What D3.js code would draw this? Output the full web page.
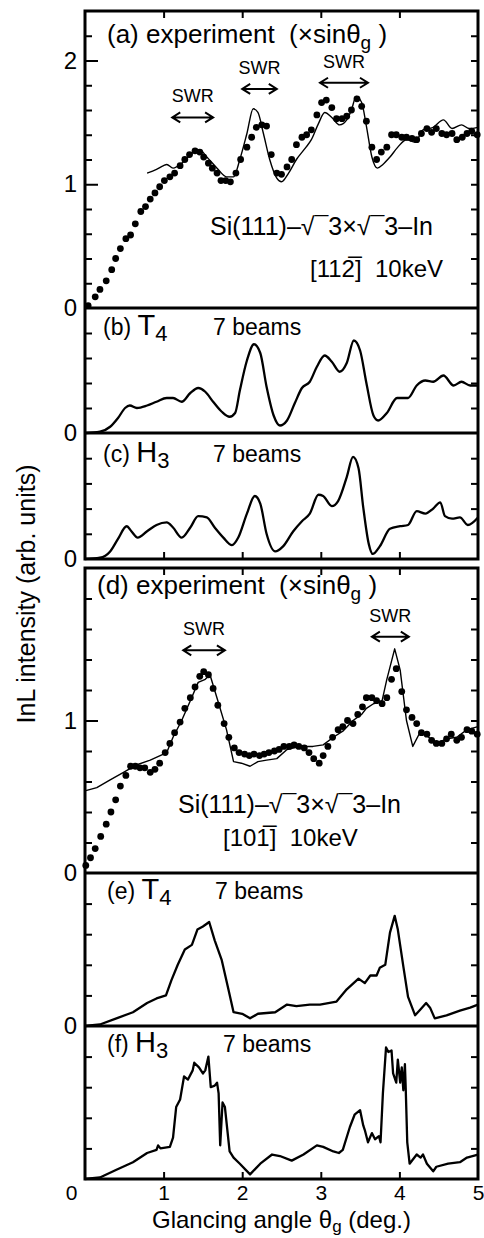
<!DOCTYPE html>
<html>
<head>
<meta charset="utf-8">
<script src="https://cdn.jsdelivr.net/npm/d3@7"></script>
<style>
body { margin: 0; background: #fff; }
text { font-family: "Liberation Sans", Arial, sans-serif; fill: #000; }
</style>
</head>
<body>
<div id="chart"></div>
<script>
var width = 484;
var height = 1238;

// glancing angle ticks (deg.)
var angleTicks = [0, 1, 2, 3, 4, 5];

// (a) experiment, [11-2] : [angle, intensity]
var expA = [
  [0.04,0.02],[0.13,0.09],[0.19,0.15],[0.27,0.22],[0.34,0.31],[0.39,0.40],[0.45,0.48],[0.52,0.56],
  [0.58,0.59],[0.64,0.68],[0.71,0.78],[0.77,0.82],[0.83,0.88],[0.89,0.93],[0.95,0.98],[1.01,1.03],
  [1.08,1.06],[1.14,1.09],[1.21,1.15],[1.27,1.20],[1.33,1.24],[1.40,1.27],[1.46,1.26],[1.51,1.22],
  [1.57,1.17],[1.62,1.13],[1.68,1.09],[1.73,1.03],[1.79,1.03],[1.85,1.02],[1.92,1.09],[1.98,1.20],
  [2.06,1.30],[2.12,1.38],[2.18,1.46],[2.25,1.48],[2.31,1.47],[2.37,1.24],[2.44,1.09],[2.50,1.08],
  [2.57,1.14],[2.63,1.20],[2.69,1.32],[2.76,1.38],[2.82,1.40],[2.88,1.44],[2.95,1.56],[3.01,1.66],
  [3.07,1.68],[3.14,1.62],[3.20,1.53],[3.27,1.53],[3.33,1.55],[3.39,1.60],[3.46,1.69],[3.52,1.63],
  [3.58,1.51],[3.65,1.30],[3.71,1.20],[3.77,1.26],[3.84,1.30],[3.90,1.40],[3.96,1.40],[4.03,1.38],
  [4.09,1.38],[4.16,1.37],[4.22,1.36],[4.28,1.41],[4.35,1.45],[4.41,1.42],[4.47,1.45],[4.54,1.41],
  [4.60,1.40],[4.67,1.41],[4.73,1.36],[4.80,1.38],[4.86,1.41],[4.92,1.43],[4.99,1.40]
];
// (a) calculation (thin line)
var calcA = [
  [0.79,1.09],[0.91,1.12],[1.00,1.15],[1.04,1.16],[1.12,1.13],[1.25,1.18],[1.38,1.26],[1.46,1.28],
  [1.55,1.22],[1.68,1.13],[1.80,1.06],[1.89,1.06],[1.97,1.20],[2.06,1.41],[2.14,1.61],[2.20,1.58],
  [2.27,1.41],[2.35,1.20],[2.44,1.05],[2.50,1.02],[2.59,1.09],[2.69,1.20],[2.80,1.29],[2.88,1.36],
  [2.97,1.49],[3.05,1.58],[3.14,1.54],[3.24,1.48],[3.33,1.52],[3.39,1.60],[3.45,1.71],[3.52,1.66],
  [3.58,1.47],[3.65,1.22],[3.72,1.13],[3.79,1.16],[3.88,1.22],[3.98,1.30],[4.09,1.36],[4.20,1.34],
  [4.30,1.44],[4.43,1.46],[4.56,1.52],[4.67,1.45],[4.79,1.48],[4.89,1.45],[5.00,1.46]
];
// (b) T4, 7 beams
var t4B = [
  [0,0],[0.19,0.01],[0.32,0.05],[0.42,0.12],[0.51,0.20],[0.57,0.22],[0.66,0.20],[0.79,0.22],
  [0.91,0.25],[1.04,0.28],[1.12,0.28],[1.23,0.25],[1.34,0.32],[1.44,0.36],[1.53,0.33],[1.63,0.25],
  [1.74,0.17],[1.84,0.13],[1.91,0.16],[1.97,0.34],[2.06,0.58],[2.15,0.71],[2.23,0.64],[2.31,0.37],
  [2.40,0.14],[2.48,0.06],[2.57,0.10],[2.67,0.24],[2.76,0.36],[2.86,0.41],[2.95,0.53],[3.05,0.62],
  [3.14,0.57],[3.24,0.49],[3.33,0.56],[3.42,0.74],[3.50,0.66],[3.58,0.40],[3.67,0.14],[3.73,0.10],
  [3.84,0.16],[3.97,0.28],[4.11,0.28],[4.22,0.38],[4.33,0.42],[4.43,0.41],[4.56,0.46],[4.69,0.38],
  [4.79,0.41],[4.90,0.38],[5.00,0.38]
];
// (c) H3, 7 beams
var h3C = [
  [0,0],[0.19,0.01],[0.32,0.06],[0.42,0.16],[0.53,0.26],[0.59,0.22],[0.67,0.17],[0.79,0.22],
  [0.91,0.27],[1.04,0.29],[1.12,0.25],[1.23,0.17],[1.34,0.25],[1.44,0.34],[1.55,0.33],[1.65,0.25],
  [1.76,0.17],[1.87,0.11],[1.95,0.17],[2.06,0.36],[2.16,0.50],[2.23,0.44],[2.31,0.20],[2.42,0.06],
  [2.52,0.10],[2.65,0.22],[2.76,0.30],[2.86,0.36],[2.97,0.51],[3.03,0.50],[3.14,0.42],[3.22,0.46],
  [3.33,0.65],[3.41,0.81],[3.48,0.72],[3.54,0.41],[3.61,0.12],[3.66,0.04],[3.75,0.10],[3.88,0.24],
  [4.01,0.26],[4.11,0.27],[4.22,0.38],[4.33,0.36],[4.43,0.40],[4.52,0.45],[4.58,0.34],[4.67,0.32],
  [4.77,0.33],[4.87,0.27],[5.00,0.33]
];
// (d) experiment, [10-1]
var expD = [
  [0.01,0.05],[0.07,0.10],[0.13,0.16],[0.20,0.24],[0.27,0.32],[0.33,0.40],[0.39,0.48],[0.45,0.57],
  [0.52,0.64],[0.58,0.70],[0.64,0.70],[0.70,0.69],[0.76,0.69],[0.83,0.66],[0.89,0.68],[0.95,0.72],
  [1.02,0.79],[1.08,0.85],[1.14,0.92],[1.21,0.99],[1.27,1.08],[1.34,1.15],[1.40,1.22],[1.46,1.29],
  [1.51,1.32],[1.57,1.30],[1.63,1.21],[1.69,1.10],[1.77,0.98],[1.83,0.89],[1.90,0.82],[1.96,0.79],
  [2.03,0.78],[2.09,0.77],[2.15,0.78],[2.22,0.77],[2.28,0.78],[2.34,0.79],[2.41,0.80],[2.47,0.81],
  [2.53,0.83],[2.60,0.83],[2.66,0.84],[2.72,0.83],[2.79,0.82],[2.85,0.79],[2.91,0.75],[2.98,0.72],
  [3.03,0.77],[3.09,0.83],[3.15,0.89],[3.22,0.94],[3.28,0.96],[3.34,1.00],[3.41,0.98],[3.47,1.04],
  [3.53,1.09],[3.58,1.15],[3.65,1.15],[3.71,1.13],[3.78,1.11],[3.84,1.15],[3.90,1.27],[3.96,1.34],
  [4.03,1.19],[4.09,1.07],[4.16,1.02],[4.22,0.98],[4.28,0.92],[4.35,0.91],[4.41,0.87],[4.47,0.85],
  [4.54,0.85],[4.60,0.88],[4.66,0.91],[4.73,0.87],[4.79,0.89],[4.86,0.94],[4.92,0.93],[4.99,0.91]
];
// (d) calculation (thin line)
var calcD = [
  [0.01,0.54],[0.15,0.56],[0.32,0.61],[0.49,0.66],[0.66,0.71],[0.83,0.74],[1.04,0.79],[1.12,0.89],
  [1.23,1.00],[1.34,1.13],[1.44,1.25],[1.53,1.27],[1.59,1.30],[1.69,1.13],[1.80,0.94],[1.89,0.73],
  [1.99,0.72],[2.10,0.70],[2.20,0.73],[2.31,0.74],[2.44,0.75],[2.57,0.81],[2.73,0.83],[2.90,0.83],
  [3.03,0.84],[3.16,0.89],[3.28,0.93],[3.41,1.00],[3.52,1.04],[3.58,1.08],[3.67,1.11],[3.78,1.13],
  [3.84,1.27],[3.94,1.47],[4.01,1.33],[4.09,1.00],[4.17,0.83],[4.26,0.92],[4.35,0.90],[4.47,0.85],
  [4.60,0.88],[4.73,0.89],[4.86,0.94],[5.00,0.96]
];
// (e) T4, 7 beams
var t4E = [
  [0,0],[0.19,0.01],[0.40,0.05],[0.61,0.09],[0.79,0.15],[0.91,0.18],[1.03,0.20],[1.10,0.30],
  [1.18,0.40],[1.27,0.50],[1.36,0.53],[1.43,0.63],[1.50,0.65],[1.58,0.68],[1.65,0.56],[1.74,0.43],
  [1.82,0.25],[1.89,0.09],[2.00,0.08],[2.10,0.05],[2.20,0.08],[2.42,0.09],[2.57,0.14],[2.69,0.13],
  [2.86,0.14],[2.99,0.14],[3.20,0.16],[3.33,0.24],[3.48,0.31],[3.56,0.28],[3.63,0.33],[3.71,0.33],
  [3.75,0.38],[3.82,0.40],[3.88,0.61],[3.94,0.72],[3.98,0.63],[4.05,0.39],[4.11,0.19],[4.20,0.07],
  [4.27,0.11],[4.34,0.15],[4.39,0.12],[4.45,0.05],[4.60,0.07],[4.77,0.10],[4.90,0.12],[5.00,0.14]
];
// (f) H3, 7 beams
var h3F = [
  [0,0],[0.19,0.01],[0.40,0.06],[0.61,0.11],[0.79,0.17],[0.91,0.19],[0.93,0.22],[0.96,0.20],
  [1.08,0.21],[1.12,0.27],[1.16,0.47],[1.21,0.52],[1.26,0.67],[1.31,0.65],[1.37,0.71],[1.39,0.76],
  [1.45,0.73],[1.50,0.69],[1.53,0.71],[1.57,0.80],[1.60,0.60],[1.65,0.61],[1.68,0.63],[1.70,0.56],
  [1.72,0.22],[1.75,0.50],[1.78,0.47],[1.84,0.18],[1.89,0.14],[1.97,0.10],[2.10,0.03],[2.23,0.10],
  [2.38,0.16],[2.48,0.15],[2.63,0.12],[2.78,0.16],[2.95,0.22],[3.03,0.21],[3.16,0.18],[3.23,0.17],
  [3.28,0.19],[3.37,0.34],[3.43,0.42],[3.50,0.45],[3.54,0.35],[3.56,0.32],[3.60,0.24],[3.65,0.30],
  [3.69,0.26],[3.74,0.28],[3.76,0.24],[3.79,0.56],[3.83,0.86],[3.86,0.83],[3.90,0.84],[3.92,0.69],
  [3.96,0.63],[3.98,0.78],[4.01,0.63],[4.03,0.73],[4.05,0.58],[4.07,0.75],[4.08,0.60],[4.10,0.24],
  [4.13,0.10],[4.22,0.16],[4.27,0.14],[4.30,0.16],[4.35,0.10],[4.43,0.05],[4.47,0.08],[4.62,0.10],
  [4.77,0.11],[4.86,0.14],[5.00,0.16]
];

// standing-wave-resonance arrows: [from angle, to angle, level]
var swrA = [[1.11, 1.63, 1.54], [2.00, 2.44, 1.77], [2.99, 3.60, 1.82]];
var swrD = [[1.25, 1.78, 1.46], [3.65, 4.12, 1.55]];

// layout
var left = 85, right = 478;
var groups = [{top: 11, bottom: 559}, {top: 568, bottom: 1179}];
var panels = [
  {top: 11,   bottom: 308,  max: 2.4, labels: [0, 1, 2]},
  {top: 308,  bottom: 433,  max: 1,   labels: [0]},
  {top: 433,  bottom: 559,  max: 1,   labels: [0]},
  {top: 568,  bottom: 873,  max: 2,   labels: [0, 1]},
  {top: 873,  bottom: 1026, max: 1,   labels: [0]},
  {top: 1026, bottom: 1179, max: 1,   labels: []}
];

var svg = d3.select("#chart")
  .append("svg")
  .attr("width", width)
  .attr("height", height);

var x = d3.scaleLinear().domain([0, 5]).range([left, right]);

panels.forEach(function(p) {
  p.y = d3.scaleLinear().domain([0, p.max]).range([p.bottom, p.top]);
  var ticks = d3.range(1, Math.round(p.max / 0.2)).map(function(i) { return +(i * 0.2).toFixed(1); });

  var la = svg.append("g")
    .attr("transform", `translate(${left},0)`)
    .call(d3.axisLeft(p.y).tickValues(ticks).tickSize(-7).tickFormat(""));
  la.select(".domain").remove();
  la.selectAll(".tick line")
    .attr("stroke-width", 2)
    .attr("x2", function(d) { return Number.isInteger(d) ? 13 : 7; });

  var ra = svg.append("g")
    .attr("transform", `translate(${right},0)`)
    .call(d3.axisRight(p.y).tickValues(ticks).tickSize(-7).tickFormat(""));
  ra.select(".domain").remove();
  ra.selectAll(".tick line").attr("stroke-width", 2);

  var lab = svg.append("g")
    .attr("transform", `translate(${left},0)`)
    .call(d3.axisLeft(p.y).tickValues(p.labels).tickSize(0).tickPadding(8).tickFormat(d3.format("d")));
  lab.select(".domain").remove();
  lab.selectAll("text").attr("font-size", 24).attr("font-family", null);
});

// x ticks inside the top and bottom of each frame
groups.forEach(function(g) {
  var t = svg.append("g")
    .attr("transform", `translate(0,${g.top})`)
    .call(d3.axisTop(x).tickValues([1, 2, 3, 4]).tickSize(-7).tickFormat(""));
  t.select(".domain").remove();
  t.selectAll(".tick line").attr("stroke-width", 2);
  var b = svg.append("g")
    .attr("transform", `translate(0,${g.bottom})`)
    .call(d3.axisBottom(x).tickValues([1, 2, 3, 4]).tickSize(-7).tickFormat(""));
  b.select(".domain").remove();
  b.selectAll(".tick line").attr("stroke-width", 2);
});

var xl = svg.append("g")
  .attr("transform", `translate(0,${groups[1].bottom})`)
  .call(d3.axisBottom(x).tickValues(angleTicks).tickSize(0).tickPadding(6).tickFormat(d3.format("d")));
xl.select(".domain").remove();
xl.selectAll("text").attr("font-size", 21).attr("font-family", null)
  .attr("x", function(d) { return d === 0 ? -14 : 0; });

// curves
function line(p, curve) {
  return d3.line()
    .x(function(d) { return x(d[0]); })
    .y(function(d) { return p.y(d[1]); })
    .curve(curve);
}
function drawLine(p, data, w, curve) {
  svg.append("path")
    .datum(data)
    .attr("d", line(p, curve))
    .attr("fill", "none")
    .attr("stroke", "#000")
    .attr("stroke-width", w)
    .attr("stroke-linejoin", "round");
}
function drawDots(p, data) {
  svg.append("g").selectAll("circle")
    .data(data)
    .enter()
    .append("circle")
      .attr("cx", function(d) { return x(d[0]); })
      .attr("cy", function(d) { return p.y(d[1]); })
      .attr("r", 3.4)
      .attr("fill", "#000");
}

drawLine(panels[0], calcA, 1.4, d3.curveMonotoneX);
drawDots(panels[0], expA);
drawLine(panels[1], t4B, 2.3, d3.curveMonotoneX);
drawLine(panels[2], h3C, 2.3, d3.curveMonotoneX);
drawLine(panels[3], calcD, 1.4, d3.curveLinear);
drawDots(panels[3], expD);
drawLine(panels[4], t4E, 2.3, d3.curveLinear);
drawLine(panels[5], h3F, 2.3, d3.curveLinear);

// frames
groups.forEach(function(g) {
  svg.append("rect")
    .attr("x", left).attr("y", g.top)
    .attr("width", right - left).attr("height", g.bottom - g.top)
    .attr("fill", "none").attr("stroke", "#000").attr("stroke-width", 3);
});
panels.forEach(function(p, i) {
  if (i === 2 || i === 5) return;
  svg.append("line")
    .attr("x1", left).attr("x2", right)
    .attr("y1", p.bottom).attr("y2", p.bottom)
    .attr("stroke", "#000").attr("stroke-width", 3);
});

// SWR arrows
function swr(p, list) {
  list.forEach(function(s) {
    var x1 = x(s[0]), x2 = x(s[1]), yy = p.y(s[2]);
    svg.append("path")
      .attr("d", `M${x1 + 8},${yy - 5}L${x1},${yy}L${x1 + 8},${yy + 5}M${x1},${yy}L${x2},${yy}M${x2 - 8},${yy - 5}L${x2},${yy}L${x2 - 8},${yy + 5}`)
      .attr("fill", "none").attr("stroke", "#000").attr("stroke-width", 2);
    svg.append("text")
      .attr("x", (x1 + x2) / 2).attr("y", yy - 15)
      .attr("text-anchor", "middle").attr("font-size", 18)
      .text("SWR");
  });
}
swr(panels[0], swrA);
swr(panels[3], swrD);

// panel texts
function title(tx, ty, letter) {
  var t = svg.append("text").attr("x", tx).attr("y", ty).attr("font-size", 26).style("white-space", "pre");
  t.append("tspan").text("(" + letter + ") experiment  (\u00d7sin\u03b8");
  t.append("tspan").attr("font-size", 19).attr("dy", 6).text("g");
  t.append("tspan").attr("dy", -6).text(" )");
}
title(107, 43, "a");
title(97, 594, "d");

function sample(tx, ty, dir, tx2, ty2) {
  svg.append("text").attr("x", tx).attr("y", ty).attr("font-size", 25)
    .text("Si(111)\u2013\u221a\u00af3\u00d7\u221a\u00af3\u2013In");
  svg.append("text").attr("x", tx2).attr("y", ty2).attr("font-size", 24).style("white-space", "pre")
    .text(dir + "  10keV");
}
sample(210, 235, "[11\u0032\u0305]", 310, 277);
sample(178, 813, "[10\u0031\u0305]", 223, 846);

function model(tx, ty, letter, site, sub, bx) {
  var t = svg.append("text").attr("x", tx).attr("y", ty).attr("font-size", 23).style("white-space", "pre");
  t.append("tspan").text("(" + letter + ") ");
  t.append("tspan").attr("font-size", 29).text(site);
  t.append("tspan").attr("font-size", 22).attr("dy", 6).text(sub);
  svg.append("text").attr("x", bx).attr("y", ty).attr("font-size", 23).text("7 beams");
}
model(103, 335, "b", "T", "4", 213);
model(103, 462, "c", "H", "3", 213);
model(107, 899, "e", "T", "4", 215);
model(107, 1052, "f", "H", "3", 223);

// axis titles
svg.append("text")
  .attr("transform", "translate(35,594) rotate(-90)")
  .attr("text-anchor", "middle").attr("font-size", 25)
  .text("InL intensity (arb. units)");

var xt = svg.append("text").attr("x", 152).attr("y", 1228).attr("font-size", 24).style("white-space", "pre");
xt.append("tspan").text("Glancing angle \u03b8");
xt.append("tspan").attr("font-size", 17).attr("dy", 4).text("g");
xt.append("tspan").attr("dy", -4).text(" (deg.)");
</script>
</body>
</html>
